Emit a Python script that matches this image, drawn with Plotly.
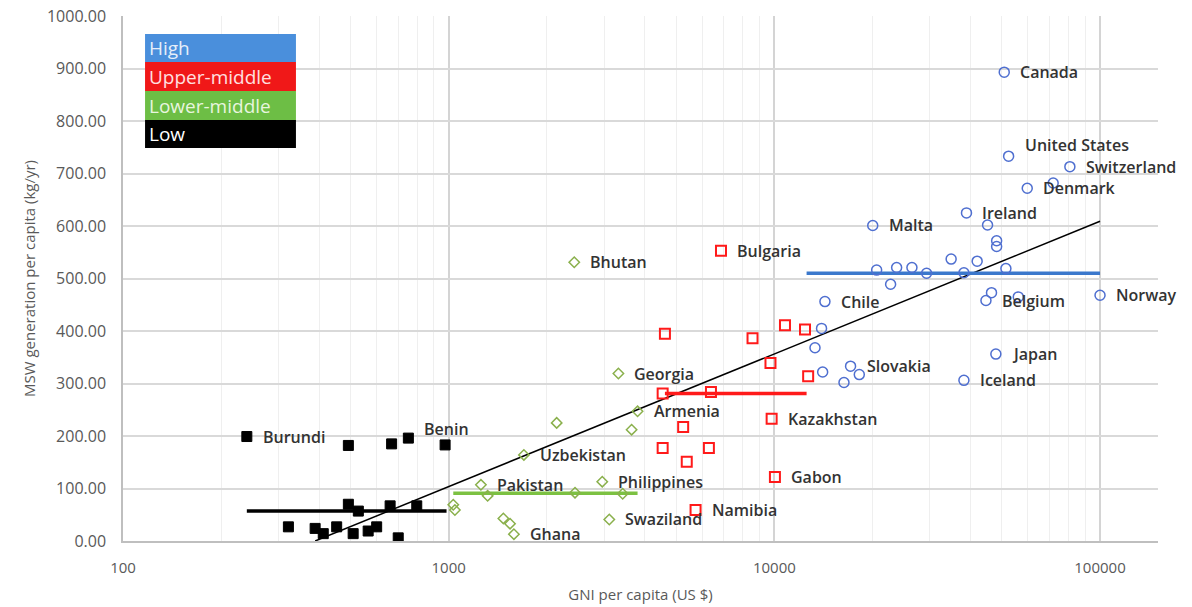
import numpy as np
import plotly.graph_objects as go

# Low income
low_gni = [240, 492, 668, 752, 975, 492, 528, 661, 798, 322, 389, 412, 453, 509, 566, 601, 700]
low_msw = [199, 182, 185, 196, 183, 70, 57, 67, 67, 27, 24, 14, 27, 14, 19, 27, 6]
low_names = ["Burundi", "", "", "Benin", "", "", "", "", "", "", "", "", "", "", "", "", ""]

# Lower-middle income
lm_gni = [3320, 2146, 3802, 3645, 1702, 1256, 1317, 1033, 1045, 1472, 1543, 1586, 2443, 2962, 3422, 3113, 2430]
lm_msw = [319, 225, 247, 212, 164, 107, 86, 69, 59, 43, 33, 13, 92, 113, 90, 41, 531]
lm_names = ["Georgia", "", "Armenia", "", "Uzbekistan", "Pakistan", "", "", "", "", "", "Ghana",
            "", "Philippines", "", "Swaziland", "Bhutan"]

# Upper-middle income
um_gni = [4613, 8570, 10780, 12420, 9730, 12700, 4540, 6388, 9810, 5248, 4540, 6295, 5383, 10040, 5729, 6857]
um_msw = [395, 386, 411, 403, 339, 314, 281, 284, 233, 217, 177, 177, 151, 122, 59, 553]
um_names = ["", "", "", "", "", "", "", "", "Kazakhstan", "", "", "", "", "Gabon", "Namibia", "Bulgaria"]

# High income
hi_gni = [50800, 52400, 80800, 59770, 71800, 38900, 45150, 48140, 48140, 34900, 41950, 38200, 51400,
          100000, 46430, 44640, 56100, 47880, 38200, 20050, 20610, 23740, 26450, 29340, 22750,
          14300, 13960, 13330, 14070, 17140, 18230, 16360]
hi_msw = [893, 733, 713, 672, 682, 625, 602, 572, 561, 537, 533, 511, 519,
          468, 473, 458, 465, 356, 306, 601, 516, 521, 521, 510, 489,
          456, 405, 368, 322, 333, 317, 302]
hi_names = ["Canada", "United States", "Switzerland", "Denmark", "", "Ireland", "", "", "", "", "", "", "",
            "Norway", "", "Belgium", "", "Japan", "Iceland", "Malta", "", "", "", "", "",
            "Chile", "", "", "", "Slovakia", "", ""]

# group average lines (kg/yr) and their GNI spans
avg_low, span_low = 57, [240, 985]
avg_lm, span_lm = 91, [1033, 3802]
avg_um, span_um = 281, [4613, 12560]
avg_hi, span_hi = 510, [12560, 100000]

# log trend line end points
trend_gni = [389, 100000]
trend_msw = [0, 609]

# label nudges (pixels) for labels sitting above their points
label_lift = {"Benin": 9, "United States": 11}

GRAY = "#595959"

fig = go.Figure()

fig.add_trace(go.Scatter(
    x=trend_gni, y=trend_msw, mode="lines",
    line=dict(color="black", width=1.5), hoverinfo="skip"))

groups = [
    (low_gni, low_msw, "square", "black", 10, 1, avg_low, span_low, "black"),
    (lm_gni, lm_msw, "diamond-open", "#8AB04C", 8, 1.5, avg_lm, span_lm, "#7CC142"),
    (um_gni, um_msw, "square-open", "#FF1A1A", 10, 2, avg_um, span_um, "#FF1A1A"),
    (hi_gni, hi_msw, "circle-open", "#4F6FD0", 10, 1.5, avg_hi, span_hi, "#3B78CC"),
]

for gx, gy, sym, col, size, lw, avg, span, lcol in groups:
    fig.add_trace(go.Scatter(
        x=span, y=[avg, avg], mode="lines",
        line=dict(color=lcol, width=3.5), hoverinfo="skip"))
    fig.add_trace(go.Scatter(
        x=gx, y=gy, mode="markers",
        marker=dict(symbol=sym, size=size, color=col, line=dict(color=col, width=lw))))

# country labels
for gx, gy, names in [(low_gni, low_msw, low_names), (lm_gni, lm_msw, lm_names),
                      (um_gni, um_msw, um_names), (hi_gni, hi_msw, hi_names)]:
    for x, y, name in zip(gx, gy, names):
        if not name:
            continue
        fig.add_annotation(
            x=np.log10(x), y=y, text=name, showarrow=False,
            xanchor="left", yanchor="middle",
            xshift=14, yshift=label_lift.get(name, 0),
            font=dict(family="Open Sans", size=16, color="#333333", weight=600))

# legend box drawn as coloured rows
legend_rows = [("High", "#4A8FDC", "#E6EEF9"), ("Upper-middle", "#F01818", "#FFE0E0"),
               ("Lower-middle", "#6DBE45", "#E8F5DF"), ("Low", "#000000", "#FFFFFF")]
row_tops = [0.9657, 0.9124, 0.8571, 0.8019, 0.7486]
for i, (label, bg, fg) in enumerate(legend_rows):
    fig.add_shape(type="rect", xref="paper", yref="paper",
                  x0=0.0213, x1=0.1671, y0=row_tops[i + 1], y1=row_tops[i],
                  fillcolor=bg, line=dict(width=0), layer="above")
    fig.add_annotation(xref="paper", yref="paper", x=0.0235, y=(row_tops[i] + row_tops[i + 1]) / 2,
                       text=label, showarrow=False, xanchor="left", yanchor="middle",
                       font=dict(family="Open Sans", size=19, color=fg))

fig.update_layout(
    width=1192, height=607,
    paper_bgcolor="white", plot_bgcolor="white",
    margin=dict(l=123, r=34, t=16, b=66),
    showlegend=False,
    font=dict(family="Open Sans", color=GRAY),
    xaxis=dict(
        type="log", range=[2, 5.178], automargin=False,
        tickvals=[100, 1000, 10000, 100000], ticktext=["100", "1000", "10000", "100000"],
        showgrid=True, gridcolor="#D4D4D4", gridwidth=1.5,
        minor=dict(showgrid=True, gridcolor="#EFEFEF", gridwidth=1, dtick="D1"),
        showline=True, linecolor="#BFBFBF", linewidth=1.5,
        zeroline=False, ticks="",
        ticklabelstandoff=12,
        tickfont=dict(size=15, color=GRAY),
        title=dict(text="GNI per capita (US $)", font=dict(size=15, color=GRAY), standoff=14),
    ),
    yaxis=dict(
        range=[0, 1000], dtick=100, tickformat=".2f", automargin=False,
        showgrid=True, gridcolor="#D9D9D9", gridwidth=1.5,
        showline=True, linecolor="#BFBFBF", linewidth=1.5,
        zeroline=False, ticks="",
        ticklabelstandoff=12,
        tickfont=dict(size=16, color=GRAY),
        title=dict(text="MSW generation per capita (kg/yr)", font=dict(size=15, color=GRAY), standoff=8),
    ),
)

# drop the page's default body margin so the figure sits at the window corner
fig.write_html("out.html", config={"displayModeBar": False},
               post_script="document.body.style.margin = '0';")
